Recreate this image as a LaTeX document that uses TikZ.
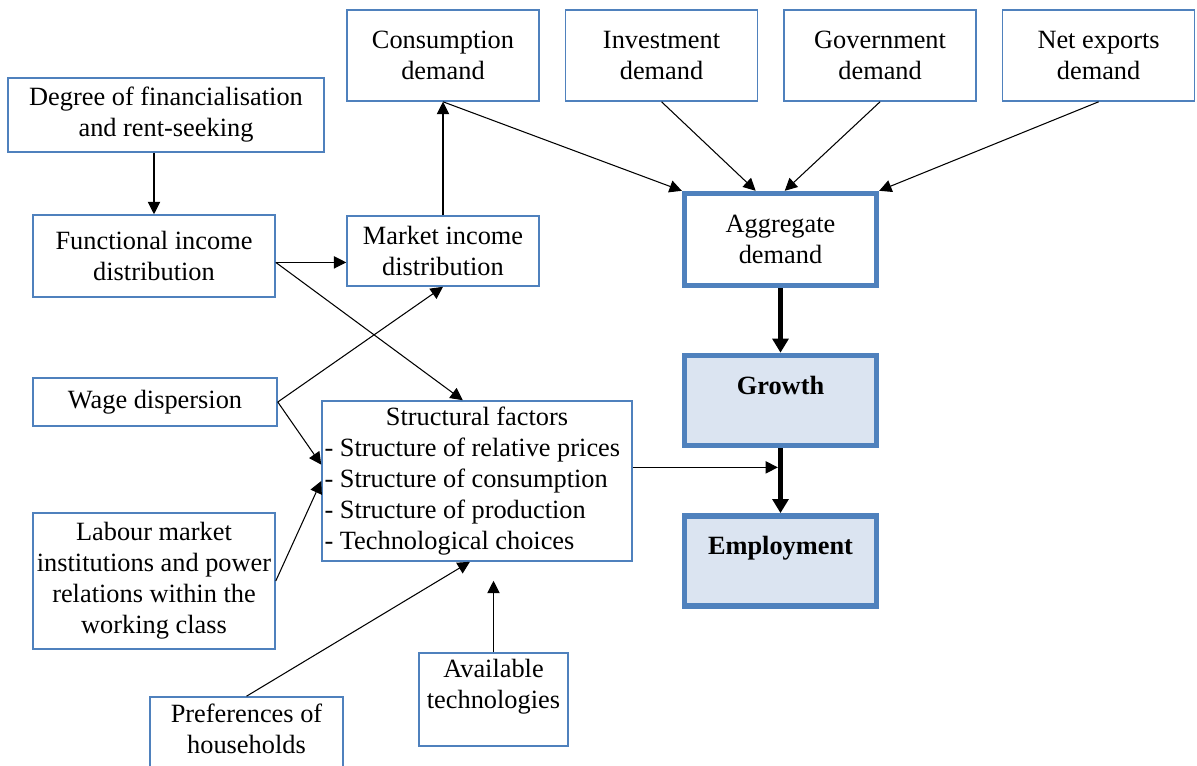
\documentclass[tikz,border=0pt]{standalone}
\usepackage{fontspec}
\setmainfont{Liberation Serif}
\usepackage{tikz}
\usetikzlibrary{positioning,arrows.meta}
\definecolor{boxblue}{HTML}{4F81BD}
\definecolor{boxfill}{HTML}{DBE4F1}

\begin{document}
\begin{tikzpicture}[x=0.02cm, y=-0.02cm, >={Triangle[length=7pt,width=7pt]},
    box/.style={draw=boxblue, line width=0.9pt, align=center, inner sep=1pt,
      font=\fontsize{15}{17.7}\selectfont},
    keybox/.style={box, line width=3.1pt},
    resultbox/.style={keybox, fill=boxfill, font=\fontsize{15}{17.7}\selectfont\bfseries},
    link/.style={->, line width=0.6pt},
    mainlink/.style={-{Triangle[length=8pt,width=9pt]}, line width=3pt}]
    \useasboundingbox (0,0) rectangle (1197,765);

    % demand components
    \node[box, minimum width=3.84cm, minimum height=1.82cm] (cons) at (443,55.5) {Consumption\\demand};
    \node[box, minimum width=3.84cm, minimum height=1.82cm, right=0.5cm of cons] (inv) {Investment\\demand};
    \node[box, minimum width=3.84cm, minimum height=1.82cm, right=0.5cm of inv] (gov) {Government\\demand};
    \node[box, minimum width=3.84cm, minimum height=1.82cm, right=0.5cm of gov] (nx) {Net exports\\demand};

    % distribution side
    \node[box, minimum width=6.32cm, minimum height=1.48cm] (fin) at (166,115) {Degree of financialisation\\and rent-seeking};
    \node[box, minimum width=4.84cm, minimum height=1.64cm] (func) at (154,256) {Functional income\\distribution};
    \node[box, minimum width=3.84cm, minimum height=1.40cm] (mkt) at (443,251) {Market income\\distribution};
    \node[box, minimum width=4.88cm, minimum height=0.96cm] (wage) at (155,402) {Wage dispersion};
    \node[box, minimum width=4.84cm, minimum height=2.72cm] (lab) at (154,581) {Labour market\\institutions and power\\relations within the\\working class};
    \node[box, minimum width=3.86cm, minimum height=1.90cm] (pref) at (246.5,744.5) {Preferences of\\households\\\mbox{}};
    \node[box, minimum width=2.98cm, minimum height=1.86cm] (tech) at (493.5,699.5) {Available\\technologies\\\mbox{}};
    \node[box, align=left, text width=6.1cm, minimum width=6.2cm, minimum height=3.2cm] (struct) at (477,481)
        {\spaceskip=0pt\xspaceskip=0pt{\centering Structural factors\par}- Structure of relative prices\\- Structure of consumption\\- Structure of production\\- Technological choices};

    % outcomes
    \node[keybox, minimum width=3.84cm, minimum height=1.84cm] (agg) at (780.5,239.5) {Aggregate\\demand};
    \node[resultbox, minimum width=3.84cm, minimum height=1.80cm, below=1.29cm of agg] (grow) {Growth\\\mbox{}};
    \node[resultbox, minimum width=3.84cm, minimum height=1.80cm, below=1.30cm of grow] (emp) {Employment\\\mbox{}};

    \draw[link] (func.north |- fin.south) -- (func.north);
    \draw[link] (func.357) -- (func.357 -| mkt.west);
    \draw[link] (func.357) -- (struct.100);
    \draw[link] (wage.east) -- (mkt.south);
    \draw[link] (wage.east) -- (struct.174);
    \draw[link] (lab.east) -- (struct.west);
    \draw[link] (mkt.north) -- (cons.south);
    \draw[link] (cons.south) -- (agg.north west);
    \draw[link] (inv.south) -- (agg.117);
    \draw[link] (gov.south) -- (agg.85);
    \draw[link] (nx.south) -- (agg.north east);
    \draw[link] (pref.north) -- (struct.265);
    \draw[link, shorten >=0.38cm] (tech.north) -- (tech.north |- struct.south);
    \draw[link, shorten >=1.5pt] (struct.5) -- (struct.5 -| grow.south);

    \draw[mainlink] (agg.south) -- (grow.north);
    \draw[mainlink] (grow.south) -- (emp.north);
\end{tikzpicture}
\end{document}
